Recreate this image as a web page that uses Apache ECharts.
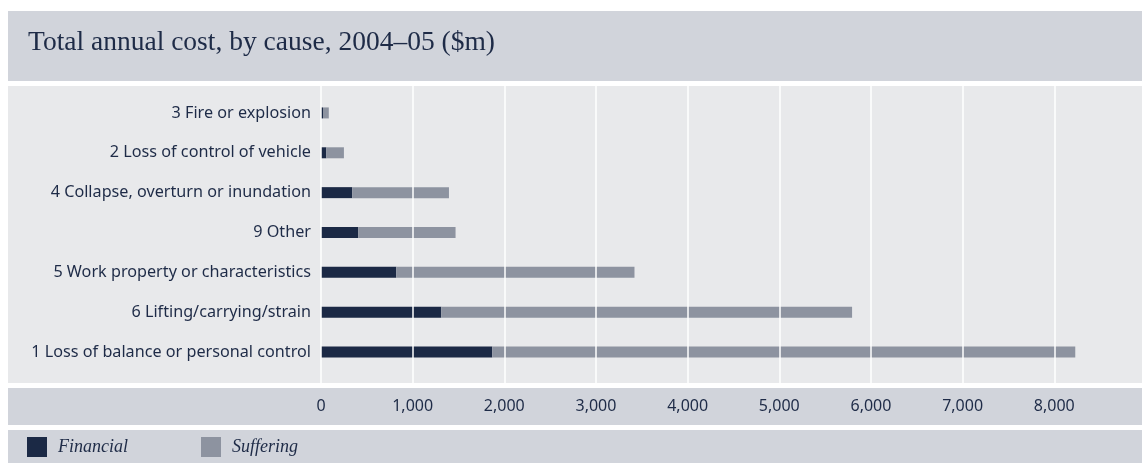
<!DOCTYPE html>
<html>
<head>
<meta charset="utf-8">
<script src="https://cdn.jsdelivr.net/npm/echarts@6/dist/echarts.min.js"></script>
<style>
html,body{margin:0;padding:0;background:#ffffff;overflow:hidden;}
#chart{width:1142px;height:463px;}
</style>
</head>
<body>
<div id="chart"></div>
<script>
// Categories listed bottom to top (ECharts category axis order)
var categories = [
  "1 Loss of balance or personal control",
  "6 Lifting/carrying/strain",
  "5 Work property or characteristics",
  "9 Other",
  "4 Collapse, overturn or inundation",
  "2 Loss of control of vehicle",
  "3 Fire or explosion"
];
var financial = [1868, 1312, 821, 407, 341, 58, 22];
var suffering = [6361, 4482, 2599, 1061, 1055, 192, 63];
var titleText = "Total annual cost, by cause, 2004\u201305 ($m)";
var seriesNames = ["Financial", "Suffering"];

var textColor = "#1e2b47";
var serif = "'Liberation Serif', 'DejaVu Serif', serif";
var sans = "'Noto Sans', 'Open Sans', sans-serif";

var chart = echarts.init(document.getElementById('chart'), null, {renderer: 'canvas'});

var xMax = 8957;

var option = {
  animation: false,
  backgroundColor: '#ffffff',
  title: {
    text: titleText,
    left: 28,
    top: 29,
    padding: 0,
    textStyle: {fontFamily: serif, fontSize: 27.5, fontWeight: 'normal', color: textColor}
  },
  graphic: [
    {type: 'rect', z: -10, shape: {x: 8, y: 11, width: 1134, height: 70}, style: {fill: '#d1d4db'}},
    {type: 'rect', z: -10, shape: {x: 8, y: 86, width: 1134, height: 297}, style: {fill: '#e8e9eb'}},
    {type: 'rect', z: -10, shape: {x: 8, y: 388, width: 1134, height: 37}, style: {fill: '#d1d4db'}},
    {type: 'rect', z: -10, shape: {x: 8, y: 430, width: 1134, height: 33}, style: {fill: '#d1d4db'}}
  ],
  legend: [
    {
      data: [seriesNames[0]], left: 27, top: 437, padding: 0,
      itemWidth: 20, itemHeight: 20, icon: 'rect',
      textStyle: {fontFamily: serif, fontStyle: 'italic', fontSize: 18, color: textColor, padding: [0, 0, 0, 6]}
    },
    {
      data: [seriesNames[1]], left: 201, top: 437, padding: 0,
      itemWidth: 20, itemHeight: 20, icon: 'rect',
      textStyle: {fontFamily: serif, fontStyle: 'italic', fontSize: 18, color: textColor, padding: [0, 0, 0, 6]}
    }
  ],
  grid: [
    {left: 321, top: 93, right: 0, height: 279, containLabel: false},
    {left: 321, top: 86, right: 0, height: 297, containLabel: false}
  ],
  xAxis: [
    {
      type: 'value', gridIndex: 0, min: 0, max: xMax, interval: 1000,
      axisLine: {show: false}, axisTick: {show: false}, splitLine: {show: false},
      axisLabel: {show: false}
    },
    {
      type: 'value', gridIndex: 1, min: 0, max: xMax, interval: 1000, z: 5,
      axisLine: {show: false}, axisTick: {show: false},
      splitLine: {show: true, showMaxLine: false, lineStyle: {color: '#ffffff', width: 1.5}},
      axisLabel: {
        show: true, margin: 15, fontFamily: sans, fontSize: 16, color: textColor,
        showMaxLabel: false,
        formatter: function (v) { return v > 8500 ? '' : v.toLocaleString('en-US'); }
      }
    }
  ],
  yAxis: [
    {
      type: 'category', gridIndex: 0, data: categories,
      axisLine: {show: false}, axisTick: {show: false}, splitLine: {show: false},
      axisLabel: {margin: 10, fontFamily: sans, fontSize: 16.2, color: textColor}
    },
    {
      type: 'category', gridIndex: 1, data: categories, show: false
    }
  ],
  series: [
    {
      name: seriesNames[0], type: 'bar', stack: 'total', xAxisIndex: 0, yAxisIndex: 0,
      data: financial, barWidth: 11, itemStyle: {color: '#1b2945'}
    },
    {
      name: seriesNames[1], type: 'bar', stack: 'total', xAxisIndex: 0, yAxisIndex: 0,
      data: suffering, barWidth: 11, itemStyle: {color: '#8d93a0'}
    }
  ]
};
chart.setOption(option);
</script>
</body>
</html>
